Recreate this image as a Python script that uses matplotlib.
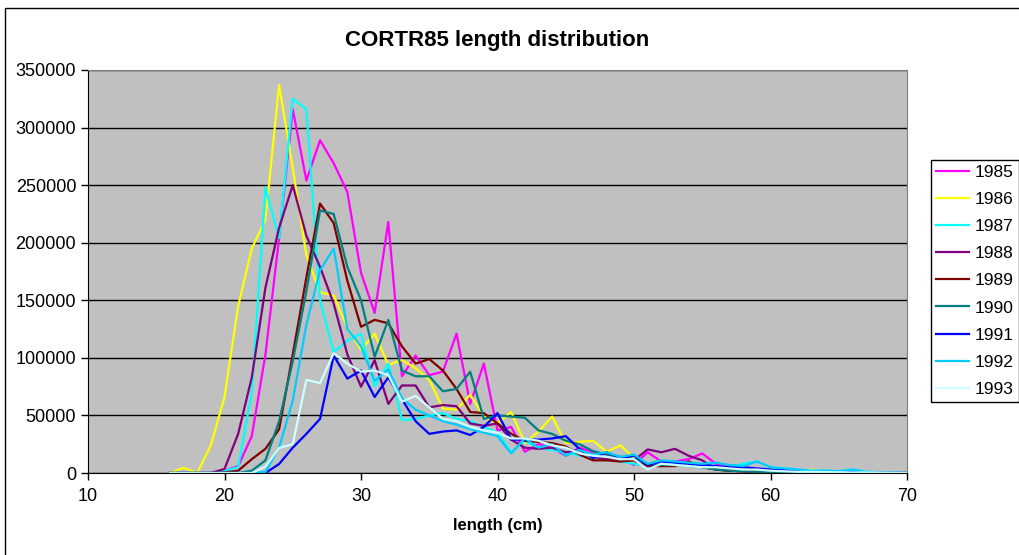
import matplotlib.pyplot as plt
from matplotlib.patches import Rectangle

plt.rcParams['font.family'] = ['Liberation Sans', 'DejaVu Sans']

lengths = list(range(16, 71))

y1985 = [0, 0, 0, 0, 2000, 6000, 32000, 103000, 204000, 316000, 254000, 289000, 269000, 244000, 174000,
         139000, 218000, 84000, 102000, 85000, 88000, 121000, 60000, 95000, 37000, 40000, 18500, 25000,
         22000, 15000, 22000, 18000, 16000, 13000, 7000, 18000, 10000, 10000, 12000, 17000, 8000, 5000,
         4000, 3000, 2000, 1500, 1000, 1000, 800, 600, 500, 400, 300, 200, 100]
y1986 = [0, 4500, 0, 24000, 66000, 145000, 195000, 220000, 337000, 265000, 189000, 157000, 154000, 126000,
         107000, 121000, 94000, 98000, 91000, 81000, 56000, 55000, 68000, 49000, 43000, 53000, 26000,
         36000, 49000, 26000, 27000, 28000, 18500, 24000, 13000, 7000, 8000, 8000, 7000, 6000, 5000, 4000,
         3000, 2500, 2000, 2000, 1000, 3000, 1000, 1000, 2000, 500, 300, 200, 100]
y1987 = [0, 0, 0, 0, 2000, 5000, 70000, 248000, 204000, 325000, 316000, 150000, 105000, 115000, 121000,
         75000, 95000, 46000, 47000, 50000, 52000, 47000, 45000, 40000, 35000, 18000, 28000, 22000, 20000,
         18000, 15000, 14000, 12000, 10000, 8000, 6000, 8000, 9000, 8000, 7000, 6000, 5000, 8000, 10000,
         5000, 4000, 3000, 2000, 2000, 1500, 3000, 1000, 500, 300, 100]
y1988 = [0, 0, 0, 0, 3500, 34000, 83000, 161000, 213000, 250000, 206000, 179000, 147000, 103000, 75000,
         98000, 60000, 76000, 76000, 57000, 59000, 58000, 43000, 41000, 43000, 29000, 22000, 21000, 22000,
         18000, 20000, 14000, 12000, 13000, 11000, 20500, 18000, 21000, 15000, 11000, 3000, 2000, 1500,
         1000, 1000, 800, 600, 500, 400, 300, 300, 200, 100, 100, 0]
y1989 = [0, 0, 0, 0, 500, 2000, 12000, 21000, 38000, 103000, 170000, 234000, 217000, 167000, 127000,
         133000, 130000, 110000, 95000, 99000, 89000, 73000, 53000, 52000, 43000, 34000, 28000, 27000,
         26000, 23000, 16000, 11000, 11000, 10000, 11000, 6000, 6000, 6000, 10000, 5000, 3000, 2000, 1500,
         1000, 1000, 800, 600, 500, 400, 300, 200, 100, 100, 0, 0]
y1990 = [0, 0, 0, 0, 0, 0, 2000, 11000, 45000, 97000, 158000, 228000, 225000, 179000, 150000, 101000,
         133000, 89000, 84000, 84000, 71000, 73000, 88000, 47000, 50000, 49000, 48000, 37000, 34000, 28000,
         25000, 19000, 16000, 14000, 12000, 8000, 7000, 7000, 6000, 5000, 3000, 2000, 1500, 1000, 1000,
         800, 600, 500, 400, 300, 200, 100, 100, 0, 0]
y1991 = [0, 0, 0, 0, 0, 0, 0, 0, 7800, 22000, 34000, 47000, 102000, 82000, 89000, 66000, 83000, 64000,
         45000, 34000, 36000, 37000, 33000, 40000, 52000, 29000, 29000, 29000, 30000, 32000, 21000, 13000,
         18000, 13000, 15000, 7000, 10000, 9000, 8000, 7000, 6000, 5000, 5000, 4000, 3000, 2500, 2000,
         1500, 1000, 1000, 800, 500, 300, 200, 100]
y1992 = [0, 0, 0, 0, 0, 0, 0, 1000, 22000, 63000, 129000, 176000, 195000, 125000, 110000, 80000, 90000,
         65000, 55000, 50000, 45000, 42000, 38000, 35000, 32000, 17000, 30000, 22000, 25000, 15000, 20000,
         16000, 18000, 14000, 16000, 8000, 11000, 10000, 9000, 8000, 9000, 7000, 6000, 10000, 5000, 4000,
         3000, 2000, 2000, 1500, 3000, 1000, 500, 300, 100]
y1993 = [0, 0, 0, 0, 0, 0, 0, 5500, 21700, 25000, 81000, 78000, 104000, 95000, 88000, 89000, 85000, 62000,
         67000, 57000, 47000, 45000, 40000, 37000, 35000, 30000, 30000, 28000, 24000, 22000, 17000, 15000,
         14000, 12000, 12000, 3000, 8000, 7000, 6000, 5000, 5000, 4000, 3000, 3000, 2000, 1500, 1000, 1000,
         800, 600, 500, 400, 300, 200, 100]

years = ['1985', '1986', '1987', '1988', '1989', '1990', '1991', '1992', '1993']
series = [y1985, y1986, y1987, y1988, y1989, y1990, y1991, y1992, y1993]
colors = ['#FF00FF', '#FFFF00', '#00FFFF', '#800080', '#800000', '#008080', '#0000FF', '#00CCFF', '#CCFFFF']

fig = plt.figure(figsize=(10.19, 5.55), dpi=100)
ax = fig.add_axes([88 / 1019, 1 - 473 / 555, (907 - 88) / 1019, (473 - 70) / 555])
ax.set_facecolor('#C0C0C0')

for vals, c, yr in zip(series, colors, years):
    ax.plot(lengths, vals, color=c, linewidth=1.6, label=yr)

ax.set_xlim(10, 70)
ax.set_ylim(0, 350000)
ax.set_xticks(range(10, 71, 10))
ax.set_yticks(range(0, 350001, 50000))
ax.yaxis.grid(True, color='black', linewidth=1)
ax.set_axisbelow(True)
ax.tick_params(direction='out', length=5, width=1, labelsize=13, colors='black')
ax.tick_params(axis='x', pad=6)
for s in ['top', 'right']:
    ax.spines[s].set_color('#808080')
for s in ['left', 'bottom']:
    ax.spines[s].set_color('black')

ax.set_title('CORTR85 length distribution', fontsize=16, fontweight='bold', pad=17)
ax.set_xlabel('length (cm)', fontsize=12, fontweight='bold', labelpad=9)

fig.legend(loc='center left', bbox_to_anchor=(931 / 1019, 0.494), fontsize=12.5, frameon=True,
           fancybox=False, edgecolor='black', framealpha=1, handlelength=1.9,
           labelspacing=0.69, borderpad=0.3, handletextpad=0.3, borderaxespad=0)

fig.patches.append(Rectangle((5 / 1019, -0.1), 1.2, 1.1 - 8 / 555, transform=fig.transFigure,
                             fill=False, edgecolor='black', linewidth=1))

fig.savefig('out.png', dpi=100)
